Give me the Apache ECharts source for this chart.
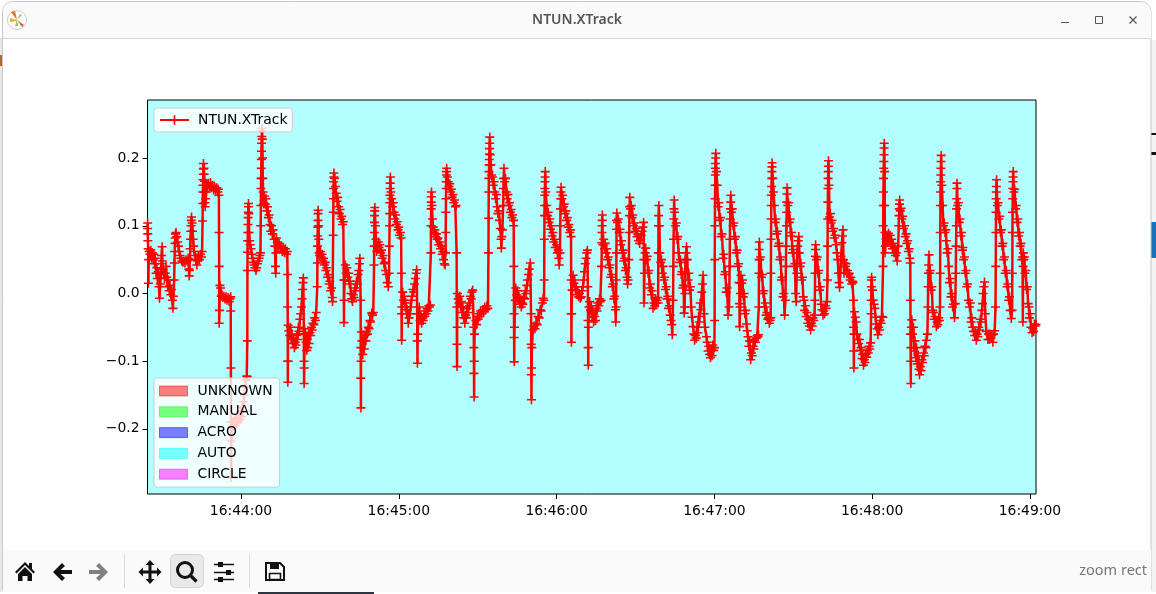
<!DOCTYPE html>
<html><head><meta charset="utf-8">
<style>html,body{margin:0;padding:0;background:#fff;overflow:hidden}#c{width:1156px;height:594px;position:absolute;left:0;top:0}#icons{position:absolute;left:0;top:0;pointer-events:none}</style>
<script src="https://cdn.jsdelivr.net/npm/echarts@6/dist/echarts.min.js"></script>
</head><body><div id="c"></div><svg id="icons" width="1156" height="594" xmlns="http://www.w3.org/2000/svg"></svg>
<script>
// seconds relative to 16:44:00, value in thousandths; flat t,v pairs
const before1644 = [-35.5,104,-35.5,96,-35.45,88,-35.4,78,-35.3,66,-35.2,15,-35.1,50,-34.9,62,-34.6,58,-34.3,64,-34,52,-33.7,60,-33.4,50,-33.2,58,-32.9,44,-32.6,52,-32.3,30,-32,38,-31.8,22,-31.5,32,-31.2,10,-31,-7,-30.7,14,-30.5,28,-30.3,44,-30.2,56,-30,69,-29.9,48,-29.7,36,-29.4,30,-29.1,22,-28.8,30,-28.5,40,-28.2,24,-27.9,10,-27.6,20,-27.3,4,-27,12,-26.7,-2,-26.4,6,-26.1,-10,-25.9,-22,-25.7,-4,-25.4,20,-25.3,45,-25.2,62,-25.1,74,-25,82,-24.9,88,-24.7,90,-24.4,84,-24.1,76,-23.8,70,-23.5,62,-23.2,56,-22.9,52,-22.5,48,-22.1,46,-21.7,48,-21.3,45,-20.9,50,-20.5,48,-20.1,52,-19.8,36,-19.7,26,-19.6,34,-19.5,50,-19.3,66,-19.2,80,-19.1,92,-19,100,-18.9,108,-18.8,113,-18.6,104,-18.4,92,-18.2,80,-18,70,-17.8,62,-17.5,56,-17.2,50,-16.8,42,-16.5,48,-16.2,55,-15.8,50,-15.4,58,-15,54,-14.8,62,-14.6,107,-14.55,133,-14.5,150,-14.45,160,-14.4,168,-14.35,176,-14.3,184,-14.25,192,-14.1,185,-14,176,-13.9,166,-13.8,150,-13.7,134,-13.6,128,-13.4,140,-13.2,150,-13,160,-12.7,156,-12.4,163,-12,158,-11.6,164,-11.2,156,-10.8,160,-10.4,153,-10,157,-9.6,152,-9.2,156,-8.8,150,-8.6,154,-8.4,145,-8.35,90,-8.3,40,-8.3,-44,-8.2,-25,-8,12,-7.8,8,-7.5,-4,-7.2,-2,-6.9,-6,-6.5,-4,-6.1,-8,-5.7,-5,-5.3,-10,-4.9,-6,-4.5,-12,-4.2,-8,-3.9,-5,-3.9,-26,-3.85,-110,-3.8,-190,-3.8,-240,-3.75,-272,-3.7,-218,-3.5,-198,-3.2,-190,-2.9,-197,-2.6,-188,-2.3,-195,-2,-186,-1.7,-192,-1.4,-184,-1.1,-190,-0.8,-180,-0.5,-186,-0.2,-175];
const minute44 = [0.1,-182,0.4,-168,0.7,-174,1,-160,1.3,-150,1.6,-138,1.9,-128,2.2,-122,2.35,-123,2.4,-70,2.45,34,2.5,61,2.55,78,2.6,90,2.65,102,2.7,112,2.75,120,2.8,128,2.85,133,3,118,3.1,90,3.3,78,3.5,72,3.8,66,4.1,58,4.4,52,4.7,46,5,42,5.3,38,5.7,34,6,38,6.3,44,6.6,48,6.9,52,7.2,56,7.4,60,7.5,100,7.55,130,7.6,155,7.65,170,7.7,185,7.75,198,7.8,210,7.85,222,7.9,232,7.95,240,8,244,8.1,228,8.2,200,8.3,170,8.4,150,8.6,132,8.9,144,9.2,132,9.5,140,9.8,122,10.1,128,10.4,112,10.7,116,11,102,11.3,92,11.6,100,11.9,88,12.2,94,12.6,80,12.9,70,13.1,40,13.2,30,13.3,60,13.5,82,13.8,76,14.1,68,14.5,74,14.9,66,15.3,70,15.7,62,16.1,68,16.5,60,16.9,66,17.3,58,17.6,62,17.7,28,17.75,-20,17.8,-100,17.8,-131,17.85,-100,17.9,-47,18.2,-55,18.5,-62,18.8,-50,19.1,-68,19.4,-60,19.7,-74,20,-66,20.3,-80,20.6,-72,20.9,-76,21.2,-62,21.5,-68,21.8,-50,22.1,-56,22.4,-38,22.7,-30,23,-20,23.2,-8,23.4,6,23.6,16,23.7,23,23.9,-60,23.95,-100,24,-133,24.05,-110,24.2,-52,24.5,-60,24.8,-72,25,-84,25.2,-68,25.4,-80,25.6,-62,25.9,-74,26.2,-58,26.5,-62,26.8,-50,27.1,-54,27.4,-44,27.7,-46,28,-36,28.3,-40,28.6,-28,29,10,29.05,45,29.1,70,29.15,85,29.2,98,29.25,108,29.3,118,29.35,123,29.5,100,29.6,80,29.7,60,29.9,56,30.2,62,30.5,54,30.8,58,31.1,48,31.4,52,31.7,42,32,46,32.3,34,32.6,38,32.9,24,33.2,28,33.5,14,33.8,18,34.1,4,34.4,8,34.7,-6,34.8,-12,35.05,86,35.1,120,35.15,140,35.2,155,35.25,165,35.3,172,35.35,178,35.6,170,35.9,158,36.2,148,36.5,136,36.8,142,37.1,128,37.4,118,37.7,124,38,110,38.3,114,38.6,102,38.9,106,39.1,20,39.15,-43,39.2,-10,39.4,20,39.7,42,40,30,40.3,38,40.6,24,40.9,30,41.2,14,41.5,18,41.8,0,42.1,-8,42.4,-12,42.7,-2,43,-6,43.3,8,43.6,4,43.9,18,44.2,14,44.5,28,44.8,34,45,44,45.2,52,45.5,-10,45.52,-80,45.55,-125,45.6,-169,45.65,-100,45.8,-57,46,-70,46.3,-90,46.6,-70,46.9,-82,47.2,-62,47.5,-70,47.8,-56,48.1,-60,48.4,-50,48.7,-52,49,-40,49.3,-42,49.7,-29,50,-32,50.3,-28,50.6,42,50.65,70,50.7,90,50.75,105,50.8,115,50.85,122,50.9,127,51.1,100,51.3,80,51.6,62,51.9,70,52.2,76,52.5,68,52.8,72,53.1,60,53.4,64,53.7,52,54,56,54.4,44,54.7,46,55,34,55.3,28,55.6,16,56,10,56.3,30,56.4,70,56.5,100,56.55,118,56.6,134,56.65,145,56.7,155,56.75,163,56.8,172,57,150,57.3,140,57.6,128,57.9,134,58.2,120,58.5,110,58.8,116,59.1,102,59.4,106,59.7,94];
const minute45 = [60,98,60.3,86,60.6,90,60.9,82,61,30,61.05,-30,61.1,-69,61.2,-20,61.5,2,61.8,-10,62.1,-4,62.4,-20,62.7,-14,63,-30,63.3,-24,63.6,-44,63.9,-36,64.2,-30,64.5,-20,64.8,-10,65.1,-4,65.4,6,65.7,2,66,14,66.3,22,66.6,30,66.8,35,67,-30,67.05,-70,67.1,-103,67.2,-60,67.5,-30,67.8,-20,68.1,-40,68.4,-32,68.7,-44,69,-36,69.3,-40,69.6,-30,69.9,-34,70.2,-26,70.5,-30,70.8,-22,71.1,-26,71.4,-18,71.7,-20,72,-17,72.2,60,72.25,100,72.3,125,72.35,135,72.4,143,72.45,150,72.6,130,72.8,110,73.1,98,73.4,90,73.7,94,74,84,74.3,88,74.6,80,74.9,82,75.2,72,75.6,76,75.9,66,76.2,70,76.5,58,76.8,62,77,50,77.3,44,77.6,42,77.8,60,77.85,90,77.9,120,77.95,140,78,155,78.05,165,78.1,175,78.15,180,78.2,185,78.5,172,78.8,165,79.1,158,79.4,162,79.7,150,80,154,80.3,142,80.6,146,80.9,134,81.2,138,81.5,128,81.8,130,82,60,82.05,-20,82.1,-75,82.15,-108,82.2,-50,82.3,0,82.6,-8,82.9,-14,83.2,-4,83.5,-20,83.8,-12,84.1,-28,84.4,-20,84.7,-36,85.1,-44,85.4,-32,85.7,-36,86,-22,86.3,-28,86.6,-14,86.9,-18,87.2,-4,87.5,-8,87.8,2,88.1,5,88.5,-50,88.55,-80,88.6,-118,88.65,-153,88.7,-100,88.8,-60,89.3,-40,89.6,-46,89.9,-34,90.2,-38,90.5,-30,90.8,-34,91.1,-26,91.5,-30,91.9,-24,92.3,-27,92.7,-20,93.1,-24,93.5,-18,93.9,-22,94.1,60,94.15,111,94.2,150,94.25,170,94.3,180,94.35,190,94.4,198,94.45,206,94.5,214,94.55,222,94.6,231,94.8,205,95,190,95.3,175,95.6,172,95.9,160,96.2,165,96.5,150,96.8,140,97.1,146,97.4,128,97.7,118,98,122,98.3,108,98.6,96,98.9,80,99,67,99.2,84,99.4,94,99.7,130,99.8,155,99.9,170,100,185,100.3,165,100.6,170,100.9,150,101.2,140,101.5,146,101.8,130,102.1,134,102.4,120,102.7,124,103,112,103.3,116,103.6,108,103.7,100,103.75,40,103.8,-30,103.85,-65,103.9,-101,104,-50,104.3,-10,104.5,8,104.8,-2,105.1,4,105.4,-10,105.7,-4,106,-16,106.3,-12,106.6,-20,106.9,-14,107.2,-16,107.5,-6,107.8,-8,108.1,4,108.4,0,108.7,12,109,20,109.3,28,109.6,36,110,45,110.3,-30,110.35,-75,110.4,-120,110.45,-157,110.5,-110,110.6,-80,111,-54,111.4,-48,111.8,-52,112.2,-44,112.6,-46,113,-34,113.4,-36,113.8,-24,114.2,-26,114.6,-14,114.9,-7,115.2,-10,115.3,20,115.35,80,115.4,115,115.45,130,115.5,145,115.55,155,115.6,165,115.65,172,115.7,180,115.9,150,116.2,130,116.5,115,116.8,120,117.1,105,117.4,110,117.7,95,118,100,118.3,85,118.6,90,118.9,76,119.2,80,119.5,68];
const minute46 = [120,72,120.3,60,120.6,64,120.8,52,121,42,121.3,60,121.4,100,121.5,125,121.6,140,121.65,150,121.7,157,122,140,122.3,145,122.6,128,122.9,132,123.2,118,123.5,122,123.8,108,124.1,112,124.4,98,124.7,102,125,90,125.3,94,125.5,84,125.55,20,125.6,-30,125.65,-72,125.7,-30,125.9,5,126.3,27,126.6,15,126.9,20,127.2,5,127.5,10,127.8,-2,128.1,4,128.4,-5,128.7,0,129,-7,129.4,-5,129.7,4,130,10,130.3,20,130.6,32,130.9,44,131.2,52,131.5,60,131.7,64,131.9,10,131.95,-40,132,-80,132.05,-106,132.1,-50,132.3,-20,132.6,-12,132.9,-25,133.2,-18,133.5,-35,133.8,-28,134.1,-42,134.5,-34,134.8,-40,135.1,-22,135.4,-26,135.7,-14,136,-18,136.3,-8,136.6,-12,137,-10,137.1,40,137.2,75,137.25,90,137.3,100,137.35,108,137.4,116,137.6,72,137.9,80,138.2,66,138.5,74,138.8,60,139.1,66,139.4,50,139.7,54,140,38,140.3,42,140.6,24,140.9,28,141.2,10,141.5,14,141.8,-8,142.1,-4,142.4,-24,142.5,-42,142.6,-20,142.7,20,142.75,60,142.8,95,142.85,108,142.9,119,143.2,105,143.5,110,143.8,90,144.1,95,144.4,72,144.7,78,145,60,145.3,64,145.6,48,145.9,52,146.2,34,146.5,38,146.8,24,147,14,147.2,20,147.5,50,147.6,90,147.7,115,147.8,128,147.85,142,148.1,125,148.4,130,148.7,112,149,116,149.3,100,149.6,104,149.9,92,150.3,96,150.6,84,150.9,88,151.2,78,151.6,74,151.9,80,152.2,86,152.5,92,152.8,98,153.1,105,153.2,50,153.25,-14,153.4,30,153.7,60,153.9,67,154.2,50,154.5,55,154.8,30,155.1,34,155.4,8,155.7,14,156,-2,156.3,4,156.7,-22,157,-14,157.3,-18,157.6,-8,157.9,-14,158.2,-10,158.5,-6,158.6,-14,158.7,60,158.75,100,158.8,115,158.9,130,159.1,100,159.3,60,159.6,46,159.9,50,160.2,30,160.5,40,160.8,20,161.1,24,161.4,6,161.7,10,162,-8,162.3,-4,162.6,-22,162.9,-18,163.2,-32,163.5,-40,163.8,-46,164,-61,164.3,-10,164.4,40,164.5,80,164.6,110,164.65,125,164.7,138,164.9,120,165.2,100,165.5,104,165.8,80,166.1,84,166.4,60,166.8,46,167.1,50,167.4,28,167.7,32,168,8,168.3,12,168.5,-29,168.7,-20,168.8,0,168.9,30,169,50,169.2,60,169.4,69,169.7,50,170,20,170.3,30,170.6,5,170.9,10,171.2,-20,171.5,-35,171.9,-49,172.2,-60,172.5,-69,172.8,-62,173.1,-66,173.4,-50,173.7,-58,174,-34,174.3,-42,174.6,-14,174.9,-24,175.2,2,175.5,14,175.7,27,176.1,-30,176.4,-50,177,-64,177.3,-72,177.6,-85,177.9,-78,178.2,-90,178.5,-95,178.8,-82,179.1,-92,179.4,-76,179.7,-84];
const minute47 = [180,-80,180.1,-40,180.15,50,180.2,100,180.25,140,180.3,160,180.35,175,180.4,185,180.45,192,180.5,200,180.55,207,180.8,180,181.1,160,181.4,128,181.7,134,182,108,182.3,112,182.6,84,182.9,88,183.3,52,183.6,58,183.9,28,184.2,32,184.5,2,184.8,8,185.2,-32,185.6,-20,185.8,40,185.9,80,186,110,186.1,125,186.2,135,186.25,145,186.5,120,186.8,125,187.1,100,187.4,104,187.7,80,188,84,188.3,60,188.6,64,188.9,40,189.2,44,189.4,16,189.55,-15,189.6,-49,189.8,-20,189.9,0,190,15,190.1,27,190.4,15,190.7,20,191,-5,191.3,0,191.6,-30,191.9,-25,192.2,-45,192.5,-55,192.8,-64,193.1,-78,193.4,-70,193.8,-98,194.1,-88,194.4,-92,194.7,-78,195,-82,195.3,-68,195.6,-72,196,-66,196.3,-62,196.6,-64,196.8,-61,196.9,-20,196.95,30,197,50,197.05,65,197.1,76,197.3,50,197.6,54,197.9,24,198.2,28,198.5,0,198.8,4,199.1,-20,199.4,-14,199.7,-32,200,-28,200.3,-38,200.6,-36,200.9,-44,201.2,-40,201.4,-36,201.5,30,201.55,80,201.6,110,201.65,130,201.7,145,201.75,158,201.8,170,201.85,180,201.9,187,201.95,193,202.2,170,202.5,150,202.8,130,203.1,105,203.4,110,203.7,88,204,92,204.3,70,204.6,74,204.9,50,205.2,54,205.5,20,205.8,24,206.1,-5,206.4,0,206.7,-32,207,-10,207.2,40,207.3,70,207.4,100,207.5,120,207.55,135,207.6,147,207.65,156,207.9,130,208.2,134,208.5,105,208.8,110,209.1,85,209.4,90,209.7,60,210,65,210.3,40,210.6,44,210.9,0,211.1,-12,211.3,30,211.5,60,211.7,70,211.9,78,212.1,84,212.3,60,212.6,40,212.9,45,213.2,20,213.5,24,213.8,-5,214.1,-10,214.3,-25,214.6,-18,214.9,-34,215.2,-28,215.5,-44,215.8,-38,216.1,-48,216.6,-54,216.9,-44,217.2,-48,217.5,-36,217.8,-40,218.1,-32,218.2,-10,218.3,30,218.4,55,218.45,65,218.5,72,218.8,50,219.1,54,219.4,30,219.7,34,220,5,220.3,10,220.6,-16,220.9,-24,221.3,-32,221.6,-26,221.9,-30,222.2,-18,222.5,-22,222.8,-12,223,20,223.05,70,223.1,110,223.15,135,223.2,155,223.25,170,223.3,180,223.35,188,223.4,196,223.6,160,223.8,113,224.1,118,224.4,104,224.7,108,225,92,225.3,96,225.6,82,225.9,86,226.3,72,226.6,60,226.9,50,227.2,30,227.4,16,227.6,9,227.9,30,228.2,55,228.5,75,228.7,85,228.9,94,229.1,50,229.3,30,229.5,45,229.8,40,230.1,44,230.4,30,230.7,34,231,28,231.3,30,231.6,20,231.9,24,232.2,14,232.5,18,232.7,16,232.9,-10,232.95,-50,233,-85,233.05,-110,233.1,-60,233.3,-27,233.6,-35,233.9,-42,234.2,-60,234.6,-68,234.9,-74,235.2,-68,235.5,-84,235.8,-80,236.1,-96,236.4,-90,236.7,-106,237,-98,237.3,-102,237.6,-90,237.9,-94,238.2,-84,238.5,-88,238.8,-78,239.1,-82,239.4,-73,239.6,-30,239.65,-10,239.7,10,239.75,20,239.8,24];
const minute48 = [240.1,5,240.4,-10,240.7,-16,241,-22,241.3,-35,241.5,-45,241.9,-52,242.2,-61,242.5,-50,242.8,-54,243.1,-40,243.4,-44,243.7,-34,244.1,-35,244.15,40,244.2,100,244.25,130,244.3,150,244.35,170,244.4,185,244.45,195,244.5,205,244.55,215,244.6,222,244.75,180,244.8,130,244.85,90,244.9,60,245,70,245.3,80,245.6,86,245.9,76,246.2,89,246.5,78,246.8,86,247.1,72,247.4,80,247.7,66,248,74,248.3,60,248.6,68,248.9,56,249.2,60,249.5,48,249.9,70,250.1,100,250.2,115,250.3,125,250.4,132,250.45,138,250.7,122,251,126,251.3,110,251.6,114,251.9,96,252.3,100,252.6,84,252.9,88,253.2,74,253.5,78,253.8,62,254.1,66,254.3,52,254.5,45,254.55,-10,254.6,-60,254.65,-100,254.7,-133,254.75,-80,254.9,-50,255.1,-39,255.4,-60,255.7,-50,256,-85,256.3,-70,256.6,-95,256.9,-80,257.2,-104,257.5,-92,257.8,-112,258,-120,258.3,-108,258.6,-114,258.9,-98,259.2,-102,259.5,-88,259.8,-92,260.1,-78,260.4,-80,260.6,-69,261,-60,261.2,-20,261.3,10,261.4,30,261.5,42,261.6,57,261.8,30,262.1,34,262.4,5,262.7,10,263,-25,263.3,-28,263.6,-38,263.9,-34,264.4,-49,264.7,-42,265,-46,265.3,-36,265.6,-40,265.8,-20,265.85,30,265.9,90,265.95,130,266,150,266.05,165,266.1,175,266.15,185,266.2,195,266.25,204,266.5,160,266.8,130,267.1,100,267.4,104,267.7,90,268,94,268.2,78,268.5,60,268.8,66,269.1,40,269.4,16,269.7,22,270,-5,270.3,0,270.6,-20,270.9,-16,271.3,-36,271.6,-15,271.8,30,271.9,70,272,100,272.1,125,272.15,140,272.2,155,272.25,163,272.5,130,272.8,134,273.1,105,273.4,110,273.7,85,274,90,274.3,64,274.5,68,274.8,50,275.1,54,275.4,30,275.7,34,276,10,276.3,14,276.6,-10,277,-20,277.3,-14,277.6,-42,277.9,-36,278.2,-50,278.6,-56,279,-62,279.3,-56,279.6,-69,279.9,-60,280.2,-64,280.5,-50,280.8,-54,281.1,-38,281.4,-42,281.7,-25,282,-15,282.2,0,282.5,10,282.7,17,283,-30,283.4,-56,284,-68,284.3,-60,284.6,-68,284.9,-60,285.2,-66,285.5,-62,285.9,-72,286.2,-60,286.6,-55,286.9,-20,287,40,287.05,90,287.1,120,287.15,140,287.2,150,287.25,158,287.3,168,287.6,130,287.9,134,288.2,110,288.5,114,288.8,90,289.1,94,289.4,70,289.7,74,290,50,290.3,54,290.6,30,291,34,291.3,10,291.6,14,291.9,-10,292.2,-5,292.5,-25,292.9,-37,293.2,-25,293.3,30,293.35,90,293.4,120,293.45,140,293.5,155,293.55,165,293.6,172,293.65,180,293.9,150,294.2,154,294.5,125,294.8,130,295.1,105,295.4,110,295.7,85,296,90,296.3,70,296.6,74,296.9,50,297.2,54,297.3,-42,297.35,10,297.4,40,297.5,60,297.7,50,297.9,54,298.1,30,298.4,34,298.7,6,299,10,299.3,-15,299.6,-20,299.8,-36,300.1,-30,300.4,-50,300.8,-58,301.1,-52,301.4,-56,301.7,-45,302,-48,302.3,-46];

const seriesName = 'NTUN.XTrack';
const modeNames = ['UNKNOWN','MANUAL','ACRO','AUTO','CIRCLE'];
const modeColors = ['#ff0000','#00ff00','#0000ff','#00ffff','#ff00ff'];
const xTicks = [0,60,120,180,240,300];
const yTicks = [-0.2,-0.1,0,0.1,0.2];

const flat = [].concat(before1644,minute44,minute45,minute46,minute47,minute48);
const pts = [];
for (let i=0;i<flat.length;i+=2) pts.push([flat[i], flat[i+1]/1000]);

const plus = 'path://M3.3 0H4.7V3.3H8V4.7H4.7V8H3.3V4.7H0V3.3H3.3Z';
const font = 'DejaVu Sans';
const fmtTime = s => { const m = 44+Math.round(s/60); return '16:'+String(m).padStart(2,'0')+':00'; };
const chromeFont = '"Noto Sans", "Open Sans", sans-serif';
const dark = '#111';
document.getElementById('icons').innerHTML = `
<g fill="none" stroke="#555" stroke-width="1.2"><path d="M1129.5 16.5L1136.5 23.5M1136.5 16.5L1129.5 23.5"/></g>
<path d="M17 20L11 12L15 11Z" fill="#e8711a"/><path d="M17 20L10 18L10 22L17 21Z" fill="#f0b020"/><path d="M17 20L20 14L22 15Z" fill="#9cc54a"/><path d="M17 20L24 25L22 27Z" fill="#c06a30"/><path d="M17 20L15 26L18 26Z" fill="#7fc070"/>
<path d="M15 572L25 562L29 566V563H32V569L35 572L33.5 573.5L25 565L16.5 573.5ZM18 574L25 567L32 574V581H27.5V576H22.5V581H18Z" fill="${dark}"/>
<path d="M53 572L62 563L65 566L60.5 570H72V574H60.5L65 578L62 581Z" fill="${dark}"/>
<path d="M108 572L99 563L96 566L100.5 570H89V574H100.5L96 578L99 581Z" fill="#808080"/>
<path d="M150 560L154.5 565H151.5V570.5H157V567.5L161.5 572L157 576.5V573.5H151.5V579H154.5L150 584L145.5 579H148.5V573.5H143V576.5L138.5 572L143 567.5V570.5H148.5V565H145.5Z" fill="${dark}"/>
<path d="M190.5 575.5L196.5 581.5" fill="none" stroke="${dark}" stroke-width="3.2"/>
<path d="M214 564.5H234M214 572.5H234M214 579.5H234" fill="none" stroke="${dark}" stroke-width="1.6"/>
<path d="M266 563H280L284 567V580H266Z" fill="none" stroke="${dark}" stroke-width="2"/>
<path d="M270 563H279V569H270Z" fill="${dark}"/>`;
const graphicEls = [
  {type:'rect',z:-3,shape:{x:0,y:38,width:3,height:554},style:{fill:'#e8e8e8'}},
  {type:'rect',z:-3,shape:{x:0,y:55,width:2,height:11},style:{fill:'#b5651d'}},
  {type:'rect',z:-3,shape:{x:1151,y:40,width:5,height:552},style:{fill:'#f4f4f4'}},
  {type:'rect',z:-3,shape:{x:1151,y:222,width:5,height:36},style:{fill:'#1a73b8'}},
  {type:'rect',z:-3,shape:{x:1151,y:133,width:5,height:2},style:{fill:'#111'}},
  {type:'rect',z:-3,shape:{x:1151,y:152,width:5,height:3},style:{fill:'#111'}},
  {type:'rect',z:-3,shape:{x:258,y:591,width:116,height:3},style:{fill:'#2a3540'}},
  {type:'rect',z:-2,shape:{x:2.5,y:1.5,width:1148.5,height:590,r:[10,10,2,2]},style:{fill:'#ffffff',stroke:'#c8c8c8',lineWidth:1}},
  {type:'rect',z:-1,shape:{x:3,y:2,width:1148,height:36,r:[10,10,0,0]},style:{fill:'#fafafa'}},
  {type:'rect',z:-1,shape:{x:3,y:38,width:1148,height:1},style:{fill:'#d6d6d6'}},
  {type:'rect',z:-1,shape:{x:3,y:550,width:1148,height:42},style:{fill:'#fafafa'}},
  {type:'text',z:5,style:{x:577,y:20.5,text:seriesName,font:'600 14px '+chromeFont,fill:'#555',textAlign:'center',textVerticalAlign:'middle'}},
  {type:'text',z:5,style:{x:1147,y:571,text:'zoom rect',font:'14.5px '+chromeFont,fill:'#777',textAlign:'right',textVerticalAlign:'middle'}},
  {type:'rect',z:5,shape:{x:1061,y:22,width:8,height:1},style:{fill:'#555'}},
  {type:'rect',z:5,shape:{x:1095.5,y:16.5,width:7,height:7},style:{fill:'none',stroke:'#555',lineWidth:1}},
  {type:'circle',z:5,shape:{cx:17,cy:20,r:9.5},style:{fill:'#fff',stroke:'#ccc',lineWidth:1}},
  {type:'rect',z:5,shape:{x:124,y:554,width:1,height:34},style:{fill:'#dcdcdc'}},
  {type:'rect',z:5,shape:{x:249,y:554,width:1,height:34},style:{fill:'#dcdcdc'}},
  {type:'rect',z:5,shape:{x:170.5,y:554.5,width:33,height:33,r:5},style:{fill:'#e9e9e9',stroke:'#d2d2d2',lineWidth:1}},
  {type:'circle',z:6,shape:{cx:185,cy:570,r:7.5},style:{fill:'none',stroke:dark,lineWidth:3}},
  {type:'rect',z:6,shape:{x:218,y:562,width:5,height:5},style:{fill:dark}},
  {type:'rect',z:6,shape:{x:226,y:570,width:5,height:5},style:{fill:dark}},
  {type:'rect',z:6,shape:{x:218,y:577,width:5,height:5},style:{fill:dark}},
  {type:'rect',z:6,shape:{x:269.5,y:573.5,width:11,height:6},style:{fill:'none',stroke:dark,lineWidth:1.6}}
];

const chart = echarts.init(document.getElementById('c'), null, {renderer:'canvas', width:1156, height:594});
chart.setOption({
  animation:false,
  backgroundColor:'#ffffff',
  textStyle:{fontFamily:font},
  grid:{left:147.5,right:120,top:100,bottom:100,show:true,backgroundColor:'#b3ffff',borderColor:'#000',borderWidth:1},
  legend:[
    {data:[{name:seriesName}],left:154,top:108,orient:'vertical',padding:[5,5,5,5],itemWidth:29,itemHeight:12,itemGap:0,
     backgroundColor:'rgba(255,255,255,0.8)',borderColor:'#cccccc',borderWidth:1,borderRadius:3,
     textStyle:{fontFamily:font,fontSize:13.9,color:'#000',padding:[0,0,0,4]},selectedMode:false},
    {data:modeNames.map((n,i)=>({name:n,icon:'rect',itemStyle:{color:modeColors[i],opacity:0.5,borderColor:modeColors[i],borderWidth:1}})),
     left:154,top:378,orient:'vertical',padding:[6,7,6,5],itemWidth:28,itemHeight:10,itemGap:6.8,
     backgroundColor:'rgba(255,255,255,0.8)',borderColor:'#cccccc',borderWidth:1,borderRadius:3,
     textStyle:{fontFamily:font,fontSize:13.9,color:'#000',padding:[0,0,0,5]},selectedMode:false}
  ],
  xAxis:{type:'value',min:-35.55,max:302.3,
    axisLine:{show:false,onZero:false},splitLine:{show:false},
    axisTick:{show:true,length:5,inside:false,lineStyle:{color:'#000',width:1},customValues:xTicks},
    axisLabel:{fontFamily:font,fontSize:13.9,color:'#000',margin:10,customValues:xTicks,formatter:v=>fmtTime(v),hideOverlap:false}},
  yAxis:{type:'value',min:-0.2962,max:0.2858,
    axisLine:{show:false,onZero:false},splitLine:{show:false},
    axisTick:{show:true,length:5,lineStyle:{color:'#000',width:1},customValues:yTicks},
    axisLabel:{fontFamily:font,fontSize:13.9,color:'#000',margin:8,customValues:yTicks,formatter:v=>(v<0?'\u2212':'')+Math.abs(v).toFixed(1)}},
  series:[
    {name:seriesName,type:'line',data:pts,symbol:plus,symbolSize:9,showSymbol:true,showAllSymbol:true,
     lineStyle:{color:'#ff0000',width:2.5},itemStyle:{color:'#ff0000',borderWidth:0},
     clip:true,silent:true,z:3,emphasis:{disabled:true}}
  ].concat(modeNames.map(n=>({name:n,type:'line',data:[],symbol:'none'}))),
  graphic:{elements:graphicEls}
});
</script></body></html>
